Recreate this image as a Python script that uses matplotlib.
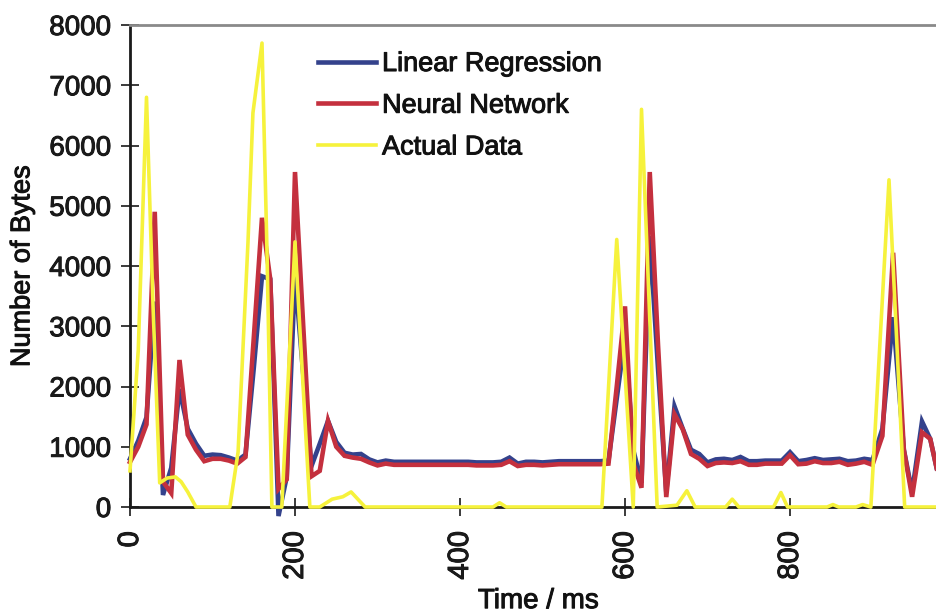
import matplotlib
matplotlib.use("Agg")
import matplotlib.pyplot as plt
import matplotlib.patheffects as pe

# ---- data ----
t_pred = [0, 10, 20, 30, 40, 50, 60, 70, 80, 90,
          100, 110, 120, 130, 140, 150, 160, 170, 180, 190,
          200, 210, 220, 230, 240, 250, 260, 270, 280, 290,
          300, 310, 320, 330, 340, 350, 360, 370, 380, 390,
          400, 410, 420, 430, 440, 450, 460, 470, 480, 490,
          500, 510, 520, 530, 540, 550, 560, 570, 580, 590,
          600, 610, 620, 630, 640, 650, 660, 670, 680, 690,
          700, 710, 720, 730, 740, 750, 760, 770, 780, 790,
          800, 810, 820, 830, 840, 850, 860, 870, 880, 890,
          900, 912, 925, 938, 948, 960, 970, 978, 990]

neural_network = [745, 1000, 1370, 4900, 420, 230, 2440, 1200, 950, 760,
                  800, 800, 770, 720, 830, 2800, 4800, 3780, 300, 460,
                  5560, 3000, 510, 600, 1430, 1000, 850, 820, 800, 740,
                  690, 720, 700, 700, 700, 700, 700, 700, 700, 700,
                  700, 700, 690, 690, 690, 700, 760, 680, 700, 700,
                  690, 700, 710, 710, 710, 710, 710, 710, 720, 2000,
                  3330, 730, 320, 5560, 2700, 165, 1540, 1290, 880, 800,
                  680, 730, 740, 730, 760, 700, 700, 720, 720, 720,
                  860, 710, 720, 760, 730, 730, 750, 700, 720, 750,
                  700, 1180, 4220, 950, 170, 1240, 1130, 630, 500]

linear_regression = [800, 1100, 1490, 3410, 200, 650, 1960, 1300, 1050, 850,
                     870, 860, 820, 770, 870, 2300, 3830, 3780, -150, 500,
                     3830, 2200, 680, 1050, 1430, 1080, 900, 870, 880, 790,
                     740, 770, 750, 750, 750, 750, 750, 750, 750, 750,
                     750, 750, 740, 740, 740, 750, 820, 720, 750, 750,
                     740, 750, 760, 760, 760, 760, 760, 760, 770, 1800,
                     2830, 950, 400, 4500, 2300, 250, 1670, 1300, 950, 880,
                     740, 790, 800, 780, 830, 760, 760, 770, 770, 770,
                     910, 760, 780, 810, 780, 790, 800, 760, 770, 800,
                     780, 1300, 3150, 950, 250, 1420, 1130, 630, 500]

t_actual = [0, 10, 20, 28, 36, 45, 55, 62, 70, 80,
            121, 131, 143, 149, 160, 166, 172, 184, 200, 218,
            230, 245, 258, 268, 285, 440, 448, 456, 572, 590,
            610, 620, 639, 663, 675, 685, 722, 730, 738, 780,
            789, 797, 845, 852, 859, 880, 888, 898, 920, 939, 990]
actual_data = [600, 2600, 6800, 3300, 400, 480, 500, 420, 250, 0,
               0, 910, 4390, 6540, 7700, 4270, 0, 0, 4400, 0,
               0, 130, 170, 250, 0, 0, 70, 0, 0, 4440,
               0, 6600, 0, 30, 270, 0, 0, 130, 0, 0,
               240, 0, 0, 40, 0, 0, 40, 0, 5430, 0, 0]

series_labels = ["Linear Regression", "Neural Network", "Actual Data"]
y_ticks = [0, 1000, 2000, 3000, 4000, 5000, 6000, 7000, 8000]
x_ticks = [0, 200, 400, 600, 800]

plt.rcParams['font.family'] = ['Liberation Sans', 'DejaVu Sans']
TXT = '#111111'
heavy = [pe.withStroke(linewidth=0.7, foreground=TXT)]

fig = plt.figure(figsize=(9.36, 6.15), dpi=100)
ax = fig.add_axes([130 / 936, (615 - 507) / 615, 0.825 * 990 / 936, (507 - 25) / 615])

ax.plot(t_pred, linear_regression, color='#34428c', lw=3.3, label=series_labels[0],
        zorder=3, clip_on=False, solid_joinstyle='miter')
ax.plot(t_pred, neural_network, color='#c4303e', lw=3.3, label=series_labels[1],
        zorder=4, clip_on=False, solid_joinstyle='miter')
ax.plot(t_actual, actual_data, color='#f6f23c', lw=2.6, label=series_labels[2],
        zorder=5, clip_on=False)

ax.set_xlim(0, 990)
ax.set_ylim(0, 8000)
ax.set_xticks(x_ticks)
ax.set_yticks(y_ticks)
ax.set_xticklabels([str(v) for v in x_ticks], rotation=90, fontsize=21, color=TXT)
ax.set_yticklabels([str(v) for v in y_ticks], fontsize=20, color=TXT)
for lab in ax.get_xticklabels() + ax.get_yticklabels():
    lab.set_path_effects(heavy)
ax.tick_params(axis='both', direction='inout', length=13, width=1.2, colors='#1a1a1a')
ax.tick_params(axis='y', pad=7)
ax.tick_params(axis='x', pad=11)

for side in ['left', 'bottom']:
    ax.spines[side].set_linewidth(2.0)
    ax.spines[side].set_color('#1a1a1a')
ax.spines['top'].set_color('#8a8a8a')
ax.spines['top'].set_linewidth(2.0)
ax.spines['right'].set_visible(False)

xl = ax.set_xlabel('Time / ms', fontsize=20, labelpad=6, color=TXT)
yl = ax.set_ylabel('Number of Bytes', fontsize=19.5, labelpad=10, color=TXT)
xl.set_path_effects(heavy)
yl.set_path_effects(heavy)

leg = ax.legend(loc='upper left', bbox_to_anchor=(0.230, 0.946), frameon=False,
                fontsize=19.5, handlelength=2.15, handletextpad=0.22,
                labelspacing=0.58, borderpad=0, borderaxespad=0)
for txt in leg.get_texts():
    txt.set_color(TXT)
    txt.set_path_effects(heavy)

fig.savefig('out.png', dpi=100)
